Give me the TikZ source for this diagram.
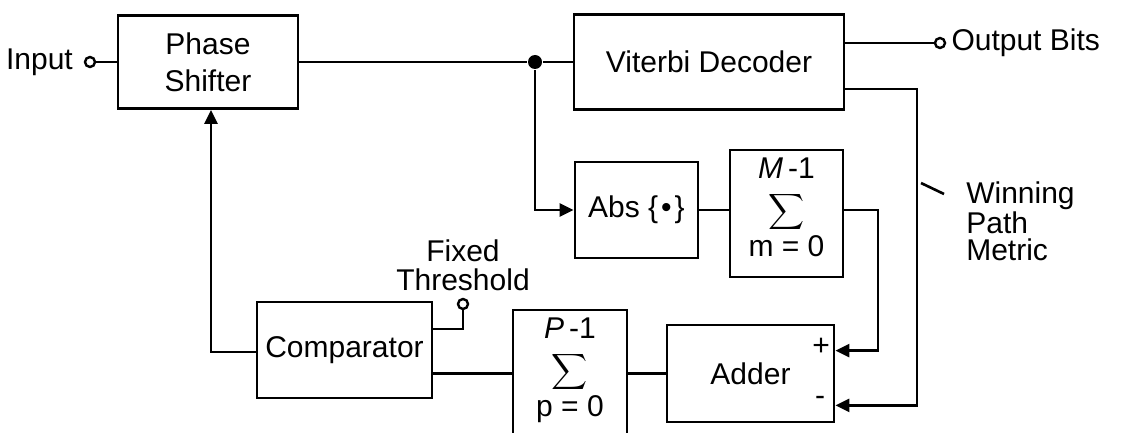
\documentclass[tikz,border=0pt]{standalone}
\usepackage{fontspec}
\setmainfont{Liberation Sans}
\usetikzlibrary{calc, arrows.meta, positioning}

\begin{document}
\begin{tikzpicture}[x=0.5pt, y=-0.5pt, line width=1.3pt,
  font=\fontsize{15}{18.5}\selectfont,
  blk/.style={draw, line width=1.4pt, inner sep=0pt, align=center},
  term/.style={circle, draw, fill=white, line width=1.2pt, inner sep=0pt, minimum size=5pt},
  jdot/.style={circle, fill, inner sep=0pt, minimum size=7pt},
  sumtxt/.style={anchor=base, inner sep=1pt},
  arr/.style={-{Triangle[length=7pt,width=6.5pt]}}]
  \useasboundingbox (0,0) rectangle (1124,433);
  % Blocs
  \node[blk, minimum width=90pt, minimum height=46.5pt] (phase) at (208,62) {Phase\\Shifter};
  \node[blk, minimum width=135pt, minimum height=47.5pt] (vit) at (709,62) {Viterbi Decoder};
  \node[blk, minimum width=61.5pt, minimum height=48pt] (abs) at (636.5,210) {Abs \{\kern1.5pt\textbullet\kern1.5pt\}};
  \node[blk, minimum width=56.5pt, minimum height=63.5pt] (msum) at (786.5,213.5) {};
  \node[blk, minimum width=87.5pt, minimum height=48pt] (comp) at (344.5,350) {Comparator};
  \node[blk, minimum width=57pt, minimum height=63.5pt] (psum) at (570,373.5) {};
  \node[blk, minimum width=83.5pt, minimum height=48.5pt] (adder) at (750.5,373.5) {Adder};
  % Sommes
  \node[sumtxt] (mup) at ($(msum.north)+(0,30)$) {\textit{M}\,-1};
  \node[inner sep=0pt] (msig) at ($(msum.north)+(0,63)$) {\scalebox{1.25}{$\displaystyle\sum$}};
  \node[sumtxt] (mlow) at ($(msum.north)+(0,108)$) {m = 0};
  \node[sumtxt] (pup) at ($(psum.north)+(0,30)$) {\textit{P}\,-1};
  \node[inner sep=0pt] (psig) at ($(psum.north)+(0,63)$) {\scalebox{1.25}{$\displaystyle\sum$}};
  \node[sumtxt] (plow) at ($(psum.north)+(0,108)$) {p = 0};
  % Bornes et jonction
  \node[term] (tin) at (90,62) {};
  \node[left=1.5pt of tin] (lin) {Input};
  \node[term] (tout) at (940,43) {};
  \node[right=0pt of tout, inner sep=2pt] (lout) {Output Bits};
  \node[term] (tthr) at (463,304) {};
  \node[above=2pt of tthr, inner sep=1pt, align=center, font=\fontsize{15}{14.5}\selectfont] (lthr) {Fixed\\Threshold};
  \node[jdot] (jn) at (535,62) {};
  \node (plus) at (821,347) {+};
  \node (minus) at (820,401) {-};
  % Etiquette metrique
  \node[anchor=north west, align=left, inner sep=0pt, font=\fontsize{15}{13.5}\selectfont] (wpm) at (965,180) {Winning\\Path\\Metric};
  \coordinate (wa) at (921,183);
  \coordinate (wb) at (944,194);
  \draw (wa) -- (wb);
  % Liaisons
  \draw (tin) -- (phase);
  \draw (phase) -- (jn) -- (vit);
  \draw (vit.east |- tout) -- (tout);
  \draw[arr] (jn) |- (abs);
  \draw (abs) -- (abs -| msum.west);
  \coordinate (mp) at (878,210);
  \coordinate (aplus) at ($(adder.north east)+(0,27)$);
  \coordinate (amin) at ($(adder.south east)+(0,-18)$);
  \draw[arr] (msum.east |- mp) -- (mp) |- (aplus);
  \coordinate (wp) at (917,89);
  \draw[arr] (vit.east |- wp) -- (wp) |- (amin);
  \coordinate (fb) at (211,352);
  \draw[arr] (comp.west |- fb) -- (fb) -- (fb |- phase.south);
  \coordinate (th) at (463,329);
  \draw (tthr) -- (th) -- (comp.east |- th);
  \draw (comp.east |- psum) -- (psum);
  \draw (psum) -- (adder);
\end{tikzpicture}
\end{document}
